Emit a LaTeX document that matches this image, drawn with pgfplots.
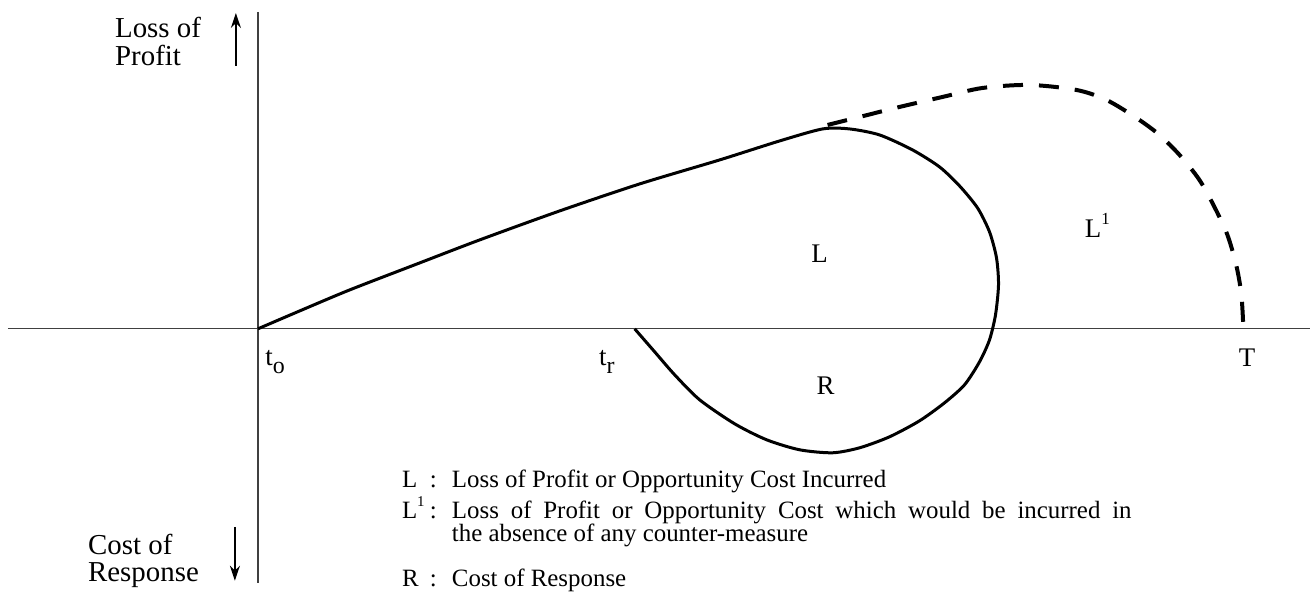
\documentclass[border=0pt]{standalone}
\usepackage{pgfplots}
\pgfplotsset{compat=1.18}
\usetikzlibrary{arrows.meta}
\usepackage{fontspec}
\setmainfont{Liberation Serif}
\newcommand{\lab}{\fontsize{29}{32}\selectfont}
\newcommand{\leg}{\fontsize{25}{28}\selectfont}
\newcommand{\reg}{\fontsize{27}{30}\selectfont}
\begin{document}
\begin{tikzpicture}
\begin{axis}[
  width=1311bp, height=598bp, scale only axis,
  xmin=0, xmax=1311, ymin=0, ymax=598, y dir=reverse,
  hide axis, clip=false,
]
% frame of the drawing area
\addplot[draw=none] coordinates {(0,0) (1311,598)};

% time axis and value axis
\addplot[line width=1.3bp, black!75] coordinates {(8,329) (1311,329)};
\addplot[line width=1.3bp, black!75] coordinates {(258,12) (258,583)};

% direction arrows beside the value axis
\addplot[line width=2.2bp, -{Stealth[length=15bp,width=10bp]}] coordinates {(236,66) (236,13)};
\addplot[line width=2.2bp, -{Stealth[length=15bp,width=10bp]}] coordinates {(235,527) (235,581)};

% loss of profit actually incurred, then cost of response
\addplot[line width=3bp, smooth, tension=0.45] coordinates {
  (258,329) (300,311) (350,290) (420,263) (480,240) (560,211) (640,184)
  (720,160) (780,141) (823,129) (850,129) (880,135) (913,150) (940,167)
  (960,186) (978,208) (990,232) (997,258) (999,285) (996,315) (990,340)
  (980,362) (965,385) (945,403) (920,421) (890,437) (860,448) (833,453)
  (800,450) (767,440) (735,424) (700,400) (675,375) (655,352) (635,329)
};

% loss that would occur without counter-measure
\addplot[line width=4bp, smooth, tension=0.5, dash pattern=on 20bp off 16bp] coordinates {
  (828,125) (860,117) (900,107) (943,97) (983,88) (1030,85) (1077,90)
  (1107,100) (1137,118) (1160,135) (1181,156) (1200,180) (1215,207)
  (1228,235) (1237,266) (1242,295) (1244,329)
};

% region and time labels
\node[font=\reg, anchor=center] at (axis cs:820,254) {L};
\node[font=\reg, anchor=base west] at (axis cs:1082,238) {L\raisebox{0.5em}{\fontsize{17}{17}\selectfont 1}};
\node[font=\reg, anchor=center] at (axis cs:826,386) {R};
\node[font=\reg, anchor=base west] at (axis cs:262,366) {t\raisebox{-0.3em}{\fontsize{24}{24}\selectfont o}};
\node[font=\reg, anchor=base west] at (axis cs:596,366) {t\raisebox{-0.3em}{\fontsize{24}{24}\selectfont r}};
\node[font=\reg, anchor=base west] at (axis cs:1236,367) {T};

% axis descriptions
\node[font=\lab, anchor=base west, inner sep=0pt] at (axis cs:115,38) {Loss of};
\node[font=\lab, anchor=base west, inner sep=0pt] at (axis cs:115,66) {Profit};
\node[font=\lab, anchor=base west, inner sep=0pt] at (axis cs:88,555) {Cost of};
\node[font=\lab, anchor=base west, inner sep=0pt] at (axis cs:88,582) {Response};

% key
\node[font=\leg, anchor=base west, inner sep=0pt] at (axis cs:402,488) {L};
\node[font=\leg, anchor=base west, inner sep=0pt] at (axis cs:430,488) {:};
\node[font=\leg, anchor=base west, inner sep=0pt] at (axis cs:452,488) {Loss of Profit or Opportunity Cost Incurred};
\node[font=\leg, anchor=base west, inner sep=0pt] at (axis cs:402,519) {L\raisebox{0.5em}{\fontsize{15}{15}\selectfont 1}};
\node[font=\leg, anchor=base west, inner sep=0pt] at (axis cs:430,519) {:};
\node[font=\leg, anchor=base west, inner sep=0pt] at (axis cs:452,519) {\makebox[680bp][s]{Loss of Profit or Opportunity Cost which would be incurred in}};
\node[font=\leg, anchor=base west, inner sep=0pt] at (axis cs:452,542) {the absence of any counter-measure};
\node[font=\leg, anchor=base west, inner sep=0pt] at (axis cs:402,587) {R};
\node[font=\leg, anchor=base west, inner sep=0pt] at (axis cs:430,587) {:};
\node[font=\leg, anchor=base west, inner sep=0pt] at (axis cs:452,587) {Cost of Response};
\end{axis}
\end{tikzpicture}
\end{document}
